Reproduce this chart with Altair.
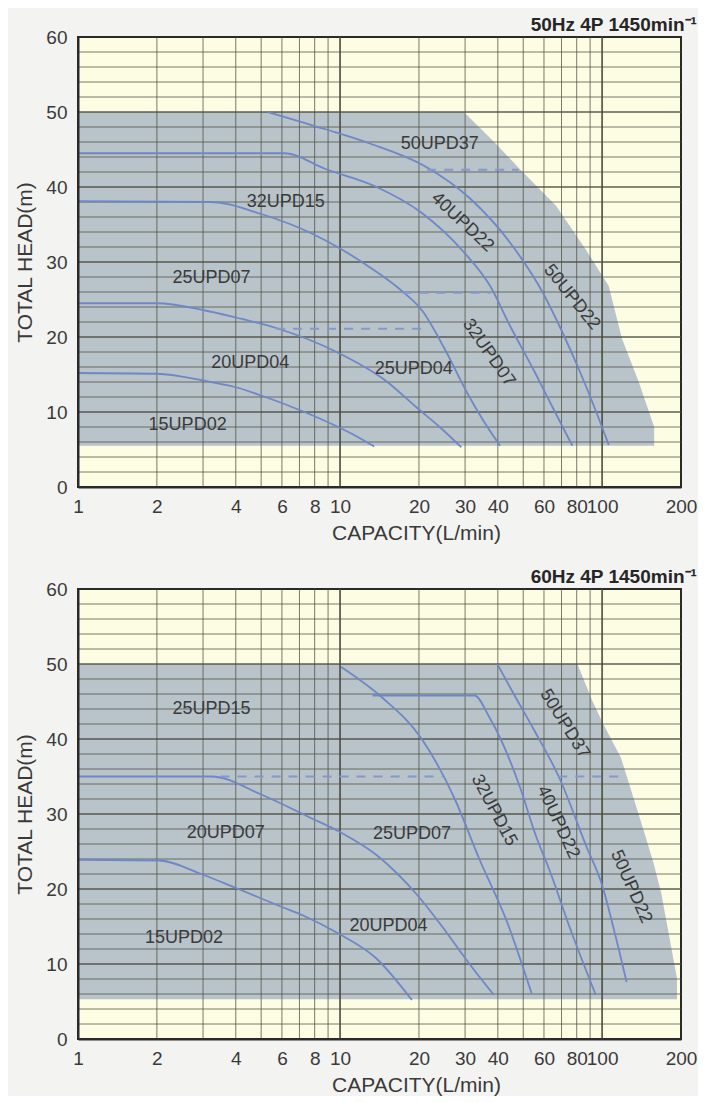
import altair as alt
import pandas as pd

FONT = "Liberation Sans, Arial, sans-serif"

# ---------------- axis / grid values ----------------
x_tick_values = [1, 2, 4, 6, 8, 10, 20, 30, 40, 60, 80, 100, 200]
y_tick_values = [0, 10, 20, 30, 40, 50, 60]
x_grid_minor = [2, 3, 4, 5, 6, 7, 8, 9, 20, 30, 40, 50, 60, 70, 80, 90]
x_grid_major = [10, 100]
y_grid_minor = [2, 4, 6, 8, 12, 14, 16, 18, 22, 24, 26, 28, 32, 34, 36, 38,
                42, 44, 46, 48, 52, 54, 56, 58]
y_grid_major = [10, 20, 30, 40, 50]

# ---------------- 50 Hz panel ----------------
top_title = "50Hz 4P 1450min\u207b\u00b9"
top_region_x = [1, 29.7, 40, 48.5, 66.7, 86.5, 106, 119, 138, 158]
top_region_y = [50, 50, 45.5, 42.4, 37.5, 31.7, 26.8, 19.8, 14, 8]
top_region_floor = 5.5

top_c1_x = [1, 2, 3, 4, 5, 7.2, 9.3, 11.5, 13.5]
top_c1_y = [15.2, 15.1, 14.2, 13.3, 12.2, 10.1, 8.4, 6.8, 5.4]
top_c2_x = [1, 2, 3, 4, 5.7, 9.7, 14.9, 19.6, 24, 29]
top_c2_y = [24.5, 24.5, 23.6, 22.6, 21.2, 18.0, 14.2, 10.6, 8.0, 5.3]
top_c3_x = [1, 3.2, 5, 7.8, 10, 12.6, 17, 20.6, 25, 30.5, 35, 40.8]
top_c3_y = [38.1, 38, 36.4, 33.8, 31.8, 29.6, 26.3, 23.5, 18.5, 12.6, 9.0, 5.5]
top_c4_x = [1, 6.15, 8.8, 13.6, 20.4, 29.7, 37.4, 44.5, 55, 65, 77]
top_c4_y = [44.5, 44.5, 42.4, 40.1, 36.6, 31.3, 26.8, 21.5, 15.5, 10.5, 5.5]
top_c5_x = [5.3, 8.8, 13, 21, 31.5, 44.5, 59.4, 70.6, 82, 95, 106]
top_c5_y = [50, 47.7, 45.8, 42.8, 38.4, 32.6, 25.9, 20.6, 15.5, 10.0, 5.6]

top_dash_y = [21.1, 25.9, 42.3]
top_dash_x1 = [5.7, 17.3, 21.5]
top_dash_x2 = [21.0, 37.5, 48.0]

top_label_text = ["50UPD37", "40UPD22", "50UPD22", "32UPD07", "25UPD04",
                  "20UPD04", "15UPD02", "25UPD07", "32UPD15"]
top_label_x = [24, 29.3, 76.6, 36.9, 19.1, 4.54, 2.62, 3.23, 6.2]
top_label_y = [45.8, 35.3, 25.3, 17.9, 15.8, 16.6, 8.3, 27.9, 38.0]
top_label_angle = [0, 43, 51, 55, 0, 0, 0, 0, 0]

# ---------------- 60 Hz panel ----------------
bot_title = "60Hz 4P 1450min\u207b\u00b9"
bot_region_x = [1, 80.5, 92, 101, 118, 145, 157, 168, 193]
bot_region_y = [50, 50, 45, 42, 37.5, 27.5, 23.5, 19.5, 8.1]
bot_region_floor = 5.3

bot_c1_x = [1, 2.04, 3, 3.96, 6, 7.3, 9.7, 13.7, 18.8]
bot_c1_y = [23.9, 23.8, 21.9, 20.2, 17.6, 16.4, 14.2, 10.8, 5.2]
bot_c2_x = [1, 3.23, 5, 7.6, 10, 13.7, 19.7, 25, 29.7, 34, 38.6]
bot_c2_y = [35, 35, 32.6, 29.6, 27.6, 24.6, 19.2, 14.6, 11.0, 8.3, 5.9]
bot_c3_x = [10.1, 14.5, 20.5, 27.4, 34, 43.5, 53.8]
bot_c3_y = [49.6, 45.5, 40, 32, 24, 15.5, 6.1]
bot_c4_x = [13.3, 32.6, 37, 41, 48.8, 56, 63, 75, 94.5]
bot_c4_y = [45.8, 45.8, 43, 40, 33.4, 27, 22.5, 15, 5.9]
bot_c5_x = [39.8, 46, 54.6, 68.9, 86.8, 100, 112, 124]
bot_c5_y = [50, 46, 41.4, 34.7, 25.8, 20.5, 14, 7.6]

bot_dash_y = [35.0, 35.0]
bot_dash_x1 = [3.5, 68]
bot_dash_x2 = [24.6, 117]

bot_label_text = ["25UPD15", "20UPD07", "15UPD02", "20UPD04", "25UPD07",
                  "32UPD15", "40UPD22", "50UPD37", "50UPD22"]
bot_label_x = [3.23, 3.66, 2.54, 15.3, 18.8, 38.7, 67.9, 72, 129]
bot_label_y = [44.0, 27.5, 13.5, 15.1, 27.4, 30.5, 28.9, 42.0, 20.3]
bot_label_angle = [0, 0, 0, 0, 0, 62, 65, 58, 66]

# ---------------- styling ----------------
CURVE_COLOR = "#6f87c6"
DASH_COLOR = "#8299cf"
GRID_COLOR = "#4d4d40"
AREA_COLOR = "#b8c3ca"
PLOT_W = 603

XSCALE = alt.Scale(type="log", domain=[1, 200], nice=False)
YSCALE = alt.Scale(domain=[0, 60], nice=False)
XAXIS = alt.Axis(values=x_tick_values, title="CAPACITY(L/min)", grid=False,
                 ticks=False, labelOverlap=False, labelFlush=False,
                 labelPadding=10, titlePadding=6, titleFontSize=21,
                 titleX=338, titleAlign="center",
                 domainColor="#2a2a2a", domainWidth=2, zindex=1)
YAXIS = alt.Axis(values=y_tick_values, title="TOTAL HEAD(m)", grid=False,
                 ticks=False, labelPadding=11, titlePadding=10, titleFontSize=21,
                 domainColor="#2a2a2a", domainWidth=2, zindex=1)


def X(field):
    return alt.X(field, type="quantitative", scale=XSCALE, axis=XAXIS)


def Y(field):
    return alt.Y(field, type="quantitative", scale=YSCALE, axis=YAXIS)


def panel(title, rx, ry, floor, curves, dy, dx1, dx2, lt, lx, ly, la):
    region = pd.DataFrame({"x": rx, "y": ry, "floor": [floor] * len(rx)})
    rows = []
    for name, (cx, cy) in curves.items():
        for i, (a, b) in enumerate(zip(cx, cy)):
            rows.append({"curve": name, "i": i, "x": a, "y": b})
    cdf = pd.DataFrame(rows)
    ddf = pd.DataFrame({"y": dy, "x1": dx1, "x2": dx2})
    ldf = pd.DataFrame({"t": lt, "x": lx, "y": ly, "a": la})

    area = alt.Chart(region).mark_area(color=AREA_COLOR, opacity=1).encode(
        x=X("x"), y=Y("y"), y2="floor")
    gx1 = alt.Chart(pd.DataFrame({"gx": x_grid_minor})).mark_rule(
        color=GRID_COLOR, strokeWidth=1, opacity=0.75).encode(x=X("gx"))
    gx2 = alt.Chart(pd.DataFrame({"gx": x_grid_major})).mark_rule(
        color=GRID_COLOR, strokeWidth=1.8, opacity=0.9).encode(x=X("gx"))
    gy1 = alt.Chart(pd.DataFrame({"gy": y_grid_minor})).mark_rule(
        color=GRID_COLOR, strokeWidth=1, opacity=0.75).encode(y=Y("gy"))
    gy2 = alt.Chart(pd.DataFrame({"gy": y_grid_major})).mark_rule(
        color=GRID_COLOR, strokeWidth=1.5, opacity=0.9).encode(y=Y("gy"))
    lines = alt.Chart(cdf).mark_line(color=CURVE_COLOR, strokeWidth=1.8,
                                     interpolate="monotone").encode(
        x=X("x"), y=Y("y"), detail="curve:N", order="i:Q")
    dashes = alt.Chart(ddf).mark_rule(color=DASH_COLOR, strokeWidth=1.8,
                                      strokeDash=[9, 8]).encode(
        x=X("x1"), x2="x2:Q", y=Y("y"))
    labels = alt.Chart(ldf).mark_text(font=FONT, fontSize=18, color="#3a3a3a",
                                      align="center", baseline="middle").encode(
        x=X("x"), y=Y("y"), text="t:N", angle=alt.Angle("a:Q", scale=None))
    return alt.layer(area, gx1, gy1, gx2, gy2, lines, dashes, labels).properties(
        width=PLOT_W, height=450,
        title=alt.TitleParams(title, anchor="end", fontSize=19, fontWeight="bold",
                              font=FONT, color="#262626", offset=-7))


top = panel(top_title, top_region_x, top_region_y, top_region_floor,
            {"c1": (top_c1_x, top_c1_y), "c2": (top_c2_x, top_c2_y),
             "c3": (top_c3_x, top_c3_y), "c4": (top_c4_x, top_c4_y),
             "c5": (top_c5_x, top_c5_y)},
            top_dash_y, top_dash_x1, top_dash_x2,
            top_label_text, top_label_x, top_label_y, top_label_angle)

bottom = panel(bot_title, bot_region_x, bot_region_y, bot_region_floor,
               {"c1": (bot_c1_x, bot_c1_y), "c2": (bot_c2_x, bot_c2_y),
                "c3": (bot_c3_x, bot_c3_y), "c4": (bot_c4_x, bot_c4_y),
                "c5": (bot_c5_x, bot_c5_y)},
               bot_dash_y, bot_dash_x1, bot_dash_x2,
               bot_label_text, bot_label_x, bot_label_y, bot_label_angle)

chart = alt.vconcat(top, bottom, spacing=23).properties(
    background="#f3f3f1",
    padding={"left": 5, "top": 7, "right": 0, "bottom": 0},
).configure_view(
    fill="#fdfde3", stroke="#2a2a2a", strokeWidth=2
).configure_axis(
    labelFont=FONT, titleFont=FONT, labelFontSize=19,
    labelColor="#3a3a3a", titleColor="#3a3a3a", titleFontWeight="normal"
)

chart.save("out.html", embed_options={"renderer": "svg", "actions": False})
